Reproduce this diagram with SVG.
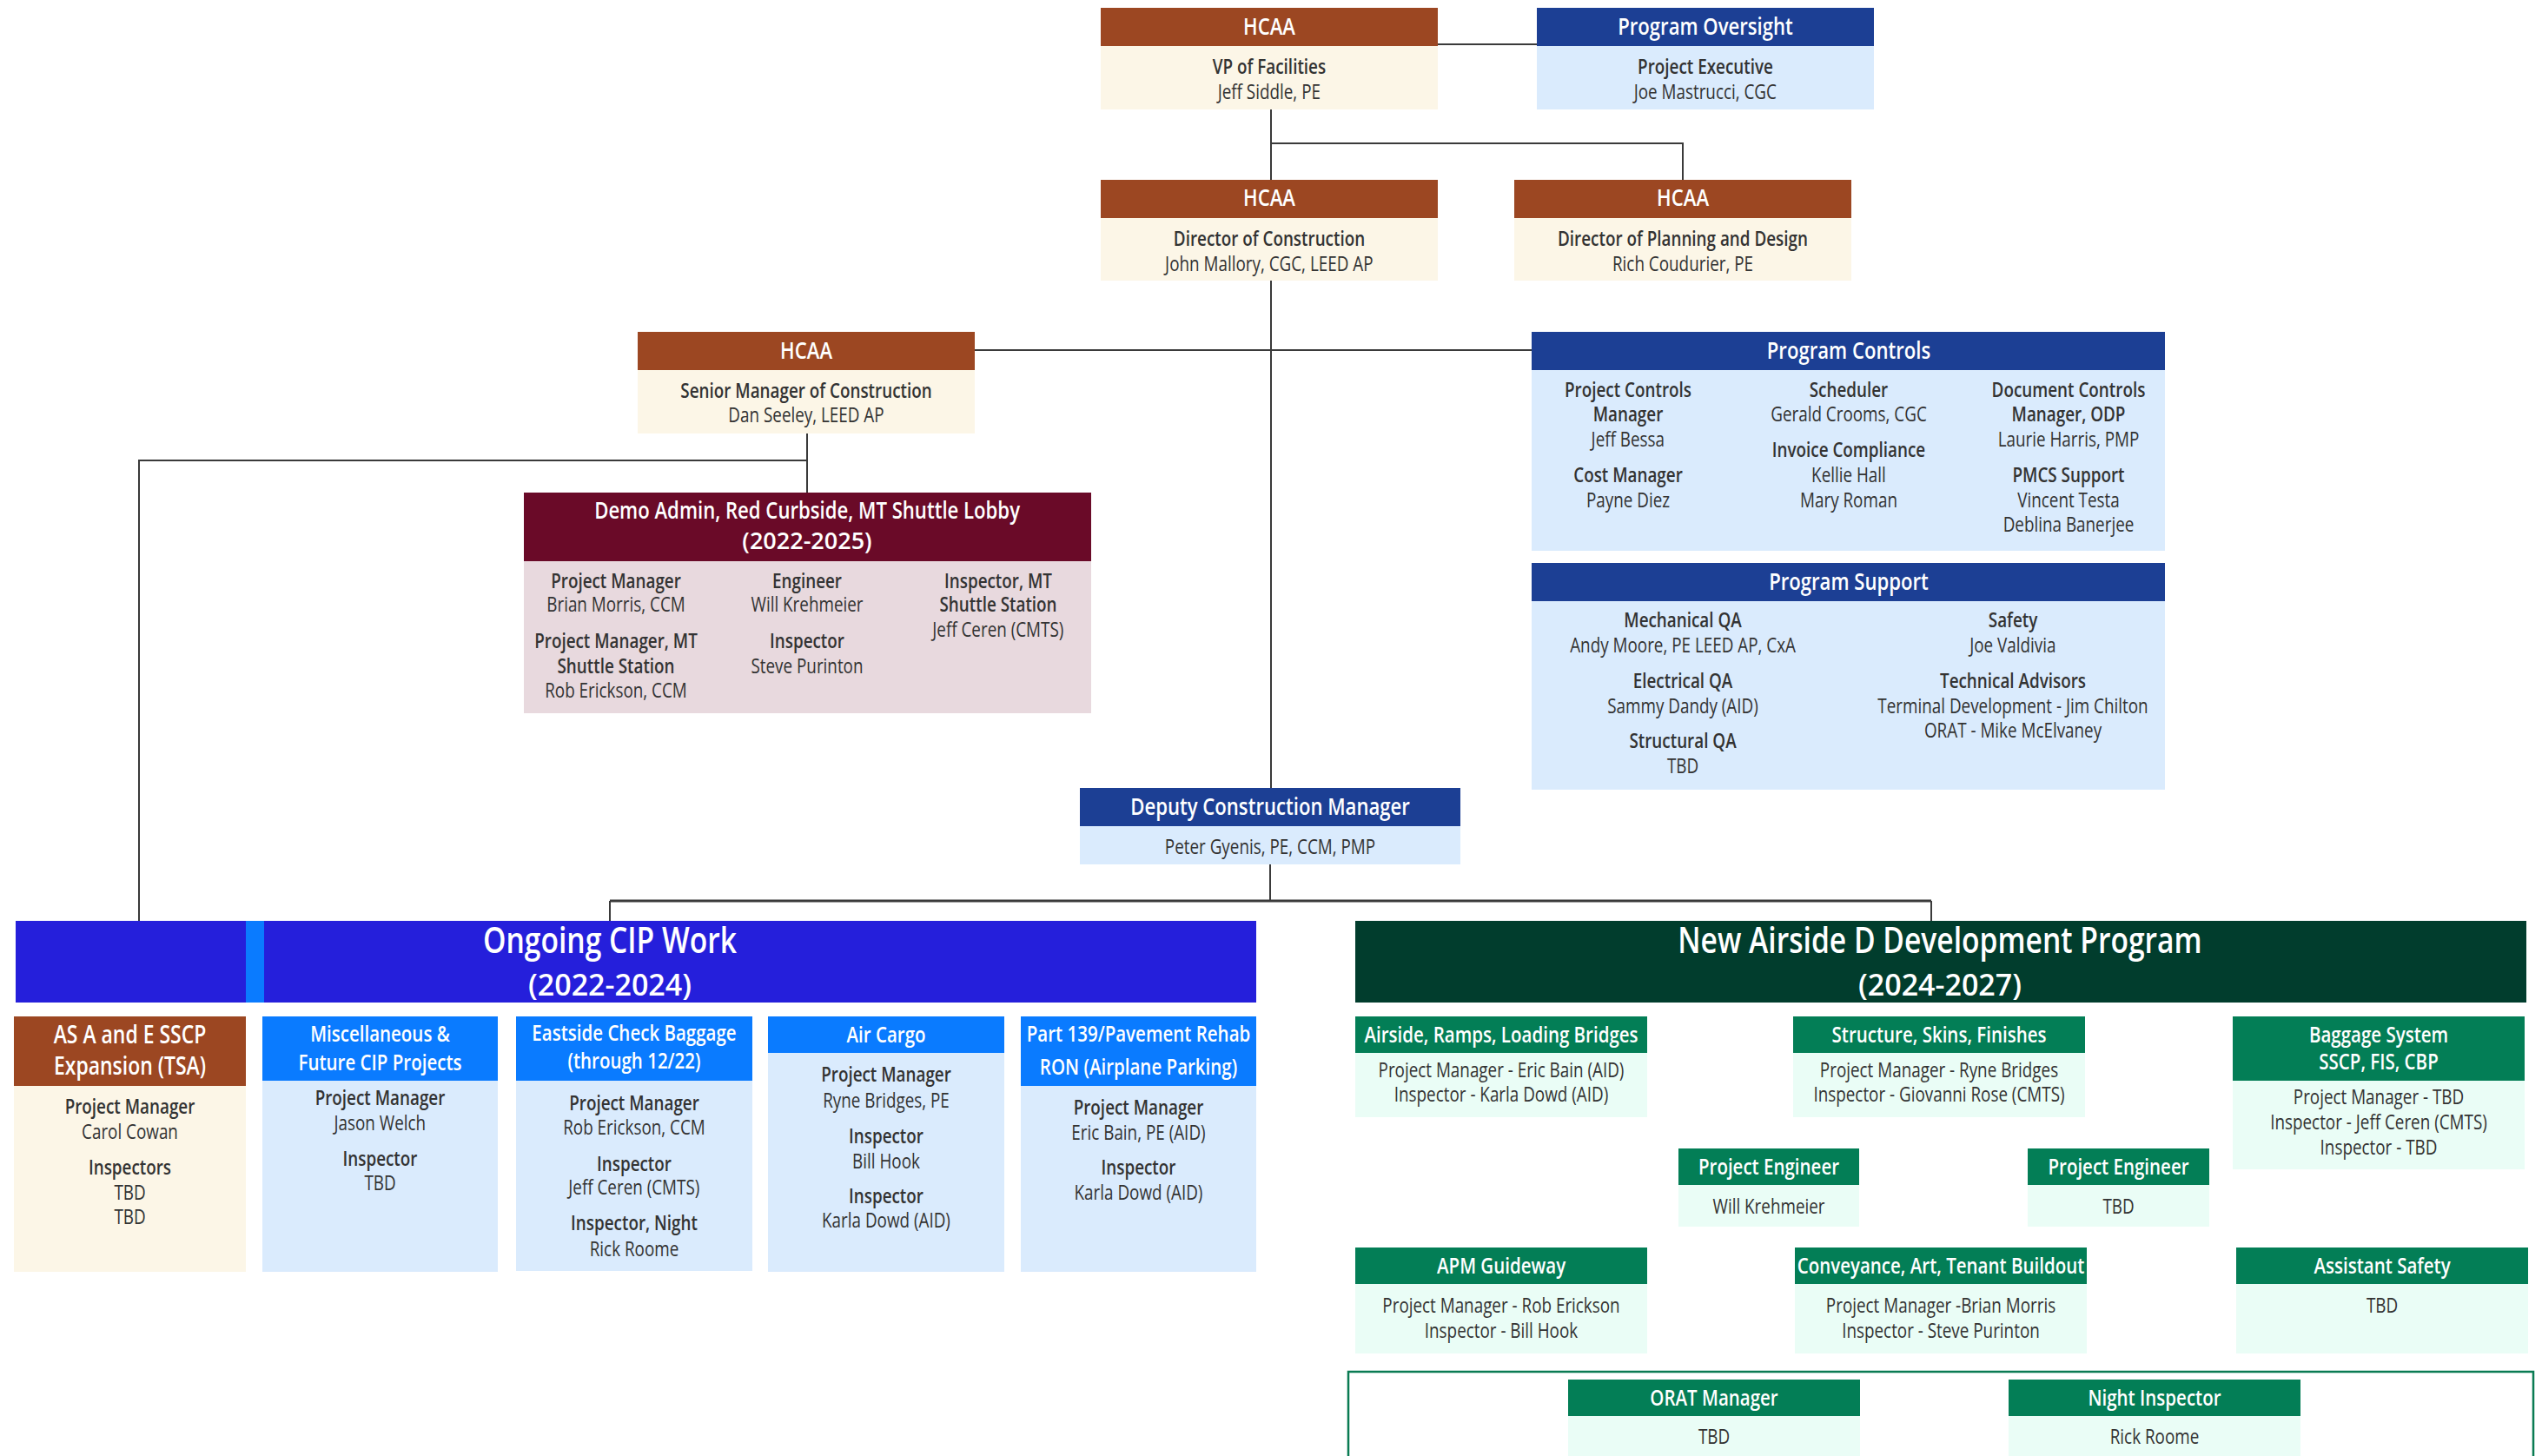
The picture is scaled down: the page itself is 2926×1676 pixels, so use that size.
<svg xmlns="http://www.w3.org/2000/svg" width="2926" height="1676" viewBox="0 0 2926 1676">
<style>
text{font-family:"Open Sans","Liberation Sans",sans-serif;text-anchor:middle;transform-box:fill-box;transform-origin:center;transform:scaleX(0.82)}
text.yr{transform:none}
.hd{fill:#fff;font-size:27px;font-weight:600}
.big{fill:#fff;font-size:41px;font-weight:600}
.big2{fill:#fff;font-size:34px;font-weight:600}
.sub{fill:#fff;font-size:25px;font-weight:600}
.sub2{fill:#fff;font-size:28px;font-weight:600}
.gh{fill:#fff;font-size:25px;font-weight:600}
.lb{fill:#333;font-size:23px;font-weight:600}
.tx{fill:#333;font-size:23px}
.gt{fill:#333;font-size:23px}
.brH{fill:#9C4722}.crB{fill:#FCF6E7}
.nvH{fill:#1C3F94}.lbB{fill:#DAEBFD}
.mrH{fill:#6A0A28}.mrB{fill:#E8D9DE}
.cipH{fill:#0A7BFF}
.dgH{fill:#013D2D}
.grH{fill:#037E56}.grB{fill:#EAFDF6}
.ln{fill:none;stroke:#3a3a3a;stroke-width:2}
</style>

<g id="connectors">
<path class="ln" d="M1655 51H1769"/>
<path class="ln" d="M1463 126V207M1463 165H1937V207"/>
<path class="ln" d="M1463 323V907"/>
<path class="ln" d="M1122 403H1763"/>
<path class="ln" d="M929 499V567M929 530H160V1060"/>
<path class="ln" d="M1462 995V1037"/>
<path class="ln" style="stroke-width:3" d="M702 1037H2223"/>
<path class="ln" d="M702 1037V1060M2223 1037V1060"/>
</g>

<g id="vp-facilities">
<rect class="brH" x="1267" y="9" width="388" height="44"/>
<rect class="crB" x="1267" y="53" width="388" height="73"/>
<text class="hd" x="1461" y="40">HCAA</text>
<text class="lb" x="1461" y="85">VP of Facilities</text>
<text class="tx" x="1461" y="114">Jeff Siddle, PE</text>
</g>

<g id="program-oversight">
<rect class="nvH" x="1769" y="9" width="388" height="44"/>
<rect class="lbB" x="1769" y="53" width="388" height="73"/>
<text class="hd" x="1963" y="40">Program Oversight</text>
<text class="lb" x="1963" y="85">Project Executive</text>
<text class="tx" x="1963" y="114">Joe Mastrucci, CGC</text>
</g>

<g id="director-construction">
<rect class="brH" x="1267" y="207" width="388" height="44"/>
<rect class="crB" x="1267" y="251" width="388" height="72"/>
<text class="hd" x="1461" y="237">HCAA</text>
<text class="lb" x="1461" y="283">Director of Construction</text>
<text class="tx" x="1461" y="312">John Mallory, CGC, LEED AP</text>
</g>

<g id="director-planning">
<rect class="brH" x="1743" y="207" width="388" height="44"/>
<rect class="crB" x="1743" y="251" width="388" height="72"/>
<text class="hd" x="1937" y="237">HCAA</text>
<text class="lb" x="1937" y="283">Director of Planning and Design</text>
<text class="tx" x="1937" y="312">Rich Coudurier, PE</text>
</g>

<g id="senior-manager">
<rect class="brH" x="734" y="382" width="388" height="44"/>
<rect class="crB" x="734" y="426" width="388" height="73"/>
<text class="hd" x="928" y="413">HCAA</text>
<text class="lb" x="928" y="458">Senior Manager of Construction</text>
<text class="tx" x="928" y="486">Dan Seeley, LEED AP</text>
</g>

<g id="demo-admin">
<rect class="mrH" x="603" y="567" width="653" height="79"/>
<rect class="mrB" x="603" y="646" width="653" height="175"/>
<text class="hd" x="929" y="597">Demo Admin, Red Curbside, MT Shuttle Lobby</text>
<text class="hd yr" x="929" y="632">(2022-2025)</text>
<text class="lb" x="709" y="677">Project Manager</text>
<text class="tx" x="709" y="704">Brian Morris, CCM</text>
<text class="lb" x="709" y="746">Project Manager, MT</text>
<text class="lb" x="709" y="775">Shuttle Station</text>
<text class="tx" x="709" y="803">Rob Erickson, CCM</text>
<text class="lb" x="929" y="677">Engineer</text>
<text class="tx" x="929" y="704">Will Krehmeier</text>
<text class="lb" x="929" y="746">Inspector</text>
<text class="tx" x="929" y="775">Steve Purinton</text>
<text class="lb" x="1149" y="677">Inspector, MT</text>
<text class="lb" x="1149" y="704">Shuttle Station</text>
<text class="tx" x="1149" y="733">Jeff Ceren (CMTS)</text>
</g>

<g id="program-controls">
<rect class="nvH" x="1763" y="382" width="729" height="44"/>
<rect class="lbB" x="1763" y="426" width="729" height="208"/>
<text class="hd" x="2128" y="413">Program Controls</text>
<text class="lb" x="1874" y="457">Project Controls</text>
<text class="lb" x="1874" y="485">Manager</text>
<text class="tx" x="1874" y="514">Jeff Bessa</text>
<text class="lb" x="1874" y="555">Cost Manager</text>
<text class="tx" x="1874" y="584">Payne Diez</text>
<text class="lb" x="2128" y="457">Scheduler</text>
<text class="tx" x="2128" y="485">Gerald Crooms, CGC</text>
<text class="lb" x="2128" y="526">Invoice Compliance</text>
<text class="tx" x="2128" y="555">Kellie Hall</text>
<text class="tx" x="2128" y="584">Mary Roman</text>
<text class="lb" x="2381" y="457">Document Controls</text>
<text class="lb" x="2381" y="485">Manager, ODP</text>
<text class="tx" x="2381" y="514">Laurie Harris, PMP</text>
<text class="lb" x="2381" y="555">PMCS Support</text>
<text class="tx" x="2381" y="584">Vincent Testa</text>
<text class="tx" x="2381" y="612">Deblina Banerjee</text>
</g>

<g id="program-support">
<rect class="nvH" x="1763" y="648" width="729" height="44"/>
<rect class="lbB" x="1763" y="692" width="729" height="217"/>
<text class="hd" x="2128" y="679">Program Support</text>
<text class="lb" x="1937" y="722">Mechanical QA</text>
<text class="tx" x="1937" y="751">Andy Moore, PE LEED AP, CxA</text>
<text class="lb" x="1937" y="792">Electrical QA</text>
<text class="tx" x="1937" y="821">Sammy Dandy (AID)</text>
<text class="lb" x="1937" y="861">Structural QA</text>
<text class="tx" x="1937" y="890">TBD</text>
<text class="lb" x="2317" y="722">Safety</text>
<text class="tx" x="2317" y="751">Joe Valdivia</text>
<text class="lb" x="2317" y="792">Technical Advisors</text>
<text class="tx" x="2317" y="821">Terminal Development - Jim Chilton</text>
<text class="tx" x="2317" y="849">ORAT - Mike McElvaney</text>
</g>

<g id="deputy">
<rect class="nvH" x="1243" y="907" width="438" height="44"/>
<rect class="lbB" x="1243" y="951" width="438" height="44"/>
<text class="hd" x="1462" y="938">Deputy Construction Manager</text>
<text class="tx" x="1462" y="983">Peter Gyenis, PE, CCM, PMP</text>
</g>

<g id="ongoing-cip">
<rect x="18" y="1060" width="1428" height="94" fill="#251FDB"/>
<rect class="cipH" x="283" y="1060" width="21" height="94"/>
<text class="big" x="702" y="1097">Ongoing CIP Work</text>
<text class="big2 yr" x="702" y="1146">(2022-2024)</text>
</g>

<g id="as-a-e">
<rect class="brH" x="16" y="1170" width="267" height="80"/>
<rect class="crB" x="16" y="1250" width="267" height="214"/>
<text class="sub2" x="149.5" y="1201">AS A and E SSCP</text>
<text class="sub2" x="149.5" y="1237">Expansion (TSA)</text>
<text class="lb" x="149.5" y="1282">Project Manager</text>
<text class="tx" x="149.5" y="1311">Carol Cowan</text>
<text class="lb" x="149.5" y="1352">Inspectors</text>
<text class="tx" x="149.5" y="1381">TBD</text>
<text class="tx" x="149.5" y="1409">TBD</text>
</g>

<g id="misc">
<rect class="cipH" x="302" y="1170" width="271" height="74"/>
<rect class="lbB" x="302" y="1244" width="271" height="220"/>
<text class="sub" x="437.5" y="1199">Miscellaneous &amp;</text>
<text class="sub" x="437.5" y="1232">Future CIP Projects</text>
<text class="lb" x="437.5" y="1272">Project Manager</text>
<text class="tx" x="437.5" y="1301">Jason Welch</text>
<text class="lb" x="437.5" y="1342">Inspector</text>
<text class="tx" x="437.5" y="1370">TBD</text>
</g>

<g id="eastside">
<rect class="cipH" x="594" y="1170" width="272" height="74"/>
<rect class="lbB" x="594" y="1244" width="272" height="219"/>
<text class="sub" x="730" y="1198">Eastside Check Baggage</text>
<text class="sub" x="730" y="1230">(through 12/22)</text>
<text class="lb" x="730" y="1278">Project Manager</text>
<text class="tx" x="730" y="1306">Rob Erickson, CCM</text>
<text class="lb" x="730" y="1348">Inspector</text>
<text class="tx" x="730" y="1375">Jeff Ceren (CMTS)</text>
<text class="lb" x="730" y="1416">Inspector, Night</text>
<text class="tx" x="730" y="1446">Rick Roome</text>
</g>

<g id="air-cargo">
<rect class="cipH" x="884" y="1170" width="272" height="42"/>
<rect class="lbB" x="884" y="1212" width="272" height="252"/>
<text class="sub" x="1020" y="1200">Air Cargo</text>
<text class="lb" x="1020" y="1245">Project Manager</text>
<text class="tx" x="1020" y="1275">Ryne Bridges, PE</text>
<text class="lb" x="1020" y="1316">Inspector</text>
<text class="tx" x="1020" y="1345">Bill Hook</text>
<text class="lb" x="1020" y="1385">Inspector</text>
<text class="tx" x="1020" y="1413">Karla Dowd (AID)</text>
</g>

<g id="part-139">
<rect class="cipH" x="1175" y="1170" width="271" height="80"/>
<rect class="lbB" x="1175" y="1250" width="271" height="214"/>
<text class="sub" x="1310.5" y="1199">Part 139/Pavement Rehab</text>
<text class="sub" x="1310.5" y="1237">RON (Airplane Parking)</text>
<text class="lb" x="1310.5" y="1283">Project Manager</text>
<text class="tx" x="1310.5" y="1312">Eric Bain, PE (AID)</text>
<text class="lb" x="1310.5" y="1352">Inspector</text>
<text class="tx" x="1310.5" y="1381">Karla Dowd (AID)</text>
</g>

<g id="new-airside">
<rect class="dgH" x="1560" y="1060" width="1348" height="94"/>
<text class="big" x="2233" y="1097">New Airside D Development Program</text>
<text class="big2 yr" x="2233" y="1146">(2024-2027)</text>
</g>

<g id="airside-ramps">
<rect class="grH" x="1560" y="1170" width="336" height="42"/>
<rect class="grB" x="1560" y="1212" width="336" height="74"/>
<text class="gh" x="1728" y="1200">Airside, Ramps, Loading Bridges</text>
<text class="gt" x="1728" y="1240">Project Manager - Eric Bain (AID)</text>
<text class="gt" x="1728" y="1268">Inspector - Karla Dowd (AID)</text>
</g>

<g id="structure">
<rect class="grH" x="2064" y="1170" width="336" height="42"/>
<rect class="grB" x="2064" y="1212" width="336" height="74"/>
<text class="gh" x="2232" y="1200">Structure, Skins, Finishes</text>
<text class="gt" x="2232" y="1240">Project Manager - Ryne Bridges</text>
<text class="gt" x="2232" y="1268">Inspector - Giovanni Rose (CMTS)</text>
</g>

<g id="baggage">
<rect class="grH" x="2570" y="1170" width="336" height="74"/>
<rect class="grB" x="2570" y="1244" width="336" height="102"/>
<text class="gh" x="2738" y="1200">Baggage System</text>
<text class="gh" x="2738" y="1231">SSCP, FIS, CBP</text>
<text class="gt" x="2738" y="1271">Project Manager - TBD</text>
<text class="gt" x="2738" y="1300">Inspector - Jeff Ceren (CMTS)</text>
<text class="gt" x="2738" y="1329">Inspector - TBD</text>
</g>

<g id="project-engineer-1">
<rect class="grH" x="1932" y="1322" width="208" height="42"/>
<rect class="grB" x="1932" y="1364" width="208" height="48"/>
<text class="gh" x="2036" y="1352">Project Engineer</text>
<text class="gt" x="2036" y="1397">Will Krehmeier</text>
</g>

<g id="project-engineer-2">
<rect class="grH" x="2334" y="1322" width="209" height="42"/>
<rect class="grB" x="2334" y="1364" width="209" height="48"/>
<text class="gh" x="2438.5" y="1352">Project Engineer</text>
<text class="gt" x="2438.5" y="1397">TBD</text>
</g>

<g id="apm-guideway">
<rect class="grH" x="1560" y="1436" width="336" height="42"/>
<rect class="grB" x="1560" y="1478" width="336" height="80"/>
<text class="gh" x="1728" y="1466">APM Guideway</text>
<text class="gt" x="1728" y="1511">Project Manager - Rob Erickson</text>
<text class="gt" x="1728" y="1540">Inspector - Bill Hook</text>
</g>

<g id="conveyance">
<rect class="grH" x="2066" y="1436" width="336" height="42"/>
<rect class="grB" x="2066" y="1478" width="336" height="80"/>
<text class="gh" x="2234" y="1466">Conveyance, Art, Tenant Buildout</text>
<text class="gt" x="2234" y="1511">Project Manager -Brian Morris</text>
<text class="gt" x="2234" y="1540">Inspector - Steve Purinton</text>
</g>

<g id="assistant-safety">
<rect class="grH" x="2574" y="1436" width="336" height="42"/>
<rect class="grB" x="2574" y="1478" width="336" height="80"/>
<text class="gh" x="2742" y="1466">Assistant Safety</text>
<text class="gt" x="2742" y="1511">TBD</text>
</g>

<g id="bottom-group">
<rect x="1552" y="1579" width="1364" height="200" fill="none" stroke="#0A7B53" stroke-width="2.5"/>
</g>

<g id="orat-manager">
<rect class="grH" x="1805" y="1588" width="336" height="42"/>
<rect class="grB" x="1805" y="1630" width="336" height="60"/>
<text class="gh" x="1973" y="1618">ORAT Manager</text>
<text class="gt" x="1973" y="1662">TBD</text>
</g>

<g id="night-inspector">
<rect class="grH" x="2312" y="1588" width="336" height="42"/>
<rect class="grB" x="2312" y="1630" width="336" height="60"/>
<text class="gh" x="2480" y="1618">Night Inspector</text>
<text class="gt" x="2480" y="1662">Rick Roome</text>
</g>
</svg>
